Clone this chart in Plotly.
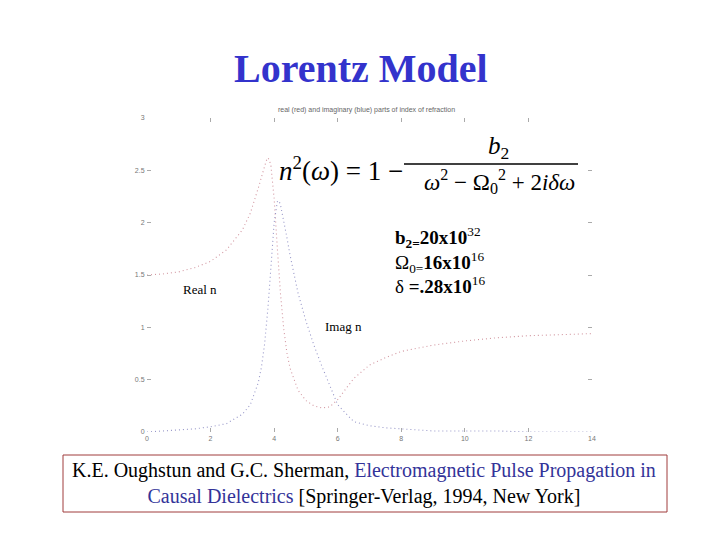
import plotly.graph_objects as go

# ---- data ----
omega = [0, 0.5, 1, 1.5, 2, 2.5, 3, 3.25, 3.5, 3.6, 3.7, 3.75, 3.8, 3.85, 3.9, 4.0,
         4.1, 4.15, 4.2, 4.3, 4.4, 4.5, 4.75, 5, 5.25, 5.5, 5.75, 6, 6.5, 7, 7.5,
         8, 9, 10, 11, 12, 13, 14]
real_n = [1.50, 1.51, 1.53, 1.57, 1.63, 1.74, 1.93, 2.09, 2.33, 2.44, 2.55, 2.59,
          2.62, 2.60, 2.54, 2.23, 1.76, 1.53, 1.32, 0.99, 0.76, 0.61, 0.40, 0.30,
          0.25, 0.23, 0.24, 0.31, 0.51, 0.64, 0.71, 0.77, 0.83, 0.87, 0.90, 0.92,
          0.93, 0.94]
imag_n = [0.00, 0.01, 0.02, 0.03, 0.05, 0.08, 0.17, 0.26, 0.47, 0.62, 0.84, 0.99,
          1.17, 1.37, 1.59, 2.00, 2.20, 2.21, 2.17, 2.03, 1.86, 1.69, 1.33, 1.06,
          0.83, 0.63, 0.44, 0.26, 0.10, 0.06, 0.04, 0.03, 0.01, 0.01, 0.01, 0.00,
          0.00, 0.00]
x_ticks = [0, 2, 4, 6, 8, 10, 12, 14]
y_ticks = [0, 0.5, 1, 1.5, 2, 2.5, 3]
y_tick_text = ["0", "0.5", "1", "1.5", "2", "2.5", "3"]

# ---- layout helpers (reference pixel -> paper) ----
OFF = 8          # page body margin
W, H = 720 - OFF, 540 - OFF
L, R, T, B = 147, 592, 118, 432
def PX(x):
    return (x - L) / (R - L)
def PY(y):
    return (B - y) / (B - T)

fig = go.Figure()
fig.add_trace(go.Scatter(x=omega, y=real_n, mode="lines", name="Real n",
                         line=dict(color="rgb(210,150,160)", width=1.1, dash="1px,3px")))
fig.add_trace(go.Scatter(x=omega, y=imag_n, mode="lines", name="Imag n",
                         line=dict(color="rgb(150,150,200)", width=1.1, dash="1px,3px")))

axis_common = dict(showgrid=False, zeroline=False, ticks="inside", ticklen=4,
                   tickcolor="#aaa", showline=True, linecolor="rgba(0,0,0,0)",
                   mirror="ticks", tickfont=dict(size=7, color="#777", family="Liberation Sans"))
fig.update_xaxes(range=[0, 14], tickvals=x_ticks, **axis_common)
fig.update_yaxes(range=[0, 3], tickvals=y_ticks, ticktext=y_tick_text, **axis_common)

serif = "Liberation Serif"
ann = []
ann.append(dict(text="<b>Lorentz Model</b>", x=PX(361), y=PY(68), font=dict(size=40, color="#3333CC", family=serif)))
ann.append(dict(text="real (red) and imaginary (blue) parts of index of refraction", x=PX(366), y=PY(110),
                font=dict(size=7, color="#666", family="Liberation Sans")))
# equation
ann.append(dict(text="<i>n</i><sup>2</sup>(<i>ω</i>) = 1 −", x=PX(405), y=PY(169), xanchor="right",
                font=dict(size=27, color="black", family=serif)))
ann.append(dict(text="<i>b</i><sub>2</sub>", x=PX(498), y=PY(147), font=dict(size=25, color="black", family=serif)))
ann.append(dict(text="<i>ω</i><sup>2</sup> − Ω<sub>0</sub><sup>2</sup> + 2<i>iδω</i>", x=PX(499), y=PY(181),
                font=dict(size=23, color="black", family=serif)))
# parameters
ann.append(dict(text="<b>b</b><sub><b>2=</b></sub><b>20x10</b><sup>32</sup><br>"
                     "Ω<sub>0=</sub><b>16x10</b><sup>16</sup><br>"
                     "δ <b>=.28x10</b><sup>16</sup>",
                x=PX(393), y=PY(260), xanchor="left", align="left",
                font=dict(size=19, color="black", family=serif)))
ann.append(dict(text="Real n", x=PX(200), y=PY(289), font=dict(size=13, color="black", family=serif)))
ann.append(dict(text="Imag n", x=PX(343), y=PY(326), font=dict(size=13, color="black", family=serif)))
# citation
blue = "#333399"
ann.append(dict(text="K.E. Oughstun and G.C. Sherman, <span style='color:%s'>Electromagnetic Pulse Propagation in</span><br>"
                     "<span style='color:%s'>Causal Dielectrics</span> [Springer-Verlag, 1994, New York]" % (blue, blue),
                x=PX(364), y=PY(483), align="center",
                font=dict(size=20, color="black", family=serif)))
for a in ann:
    a.setdefault("xref", "paper")
    a.setdefault("yref", "paper")
    a.setdefault("showarrow", False)
    a.setdefault("xanchor", "center")
    a.setdefault("yanchor", "middle")

shapes = [
    dict(type="line", xref="paper", yref="paper", x0=PX(404), x1=PX(578), y0=PY(164), y1=PY(164),
         line=dict(color="black", width=1.5)),
    dict(type="rect", xref="paper", yref="paper", x0=PX(63), x1=PX(667), y0=PY(512), y1=PY(455),
         line=dict(color="#a03c3c", width=1)),
]

fig.update_layout(width=W, height=H, autosize=False, showlegend=False,
                  paper_bgcolor="white", plot_bgcolor="white",
                  margin=dict(l=L - OFF, r=720 - R, t=T - OFF, b=540 - B),
                  annotations=ann, shapes=shapes)
fig.write_html("out.html")
